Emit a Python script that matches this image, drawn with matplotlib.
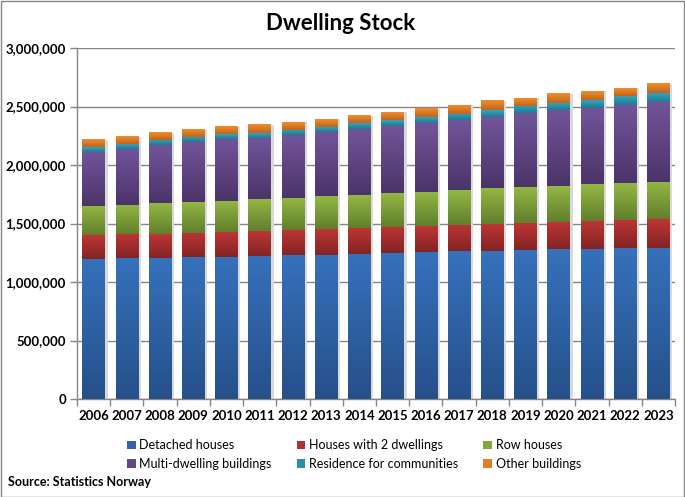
import numpy as np
import matplotlib
matplotlib.use("Agg")
import matplotlib.pyplot as plt
from matplotlib.colors import LinearSegmentedColormap
from matplotlib.patches import Patch, Rectangle
from matplotlib.ticker import FuncFormatter, MultipleLocator

plt.rcParams["font.family"] = ["Lato", "DejaVu Sans"]

years = [str(y) for y in range(2006, 2024)]

# values in dwellings (thousands * 1000)
detached = np.array([1197, 1204, 1208, 1211, 1214, 1225, 1230, 1234, 1242,
                     1250, 1259, 1265, 1268, 1274, 1280, 1284, 1290, 1294]) * 1000
two_dwellings = np.array([205, 206, 204, 208, 213, 211, 217, 222, 222,
                          223, 222, 225, 231, 230, 236, 240, 243, 242]) * 1000
row_houses = np.array([248, 248, 263, 265, 265, 273, 274, 282, 282,
                       290, 291, 299, 307, 311, 307, 316, 316, 321]) * 1000
multi_dwelling = np.array([463, 479, 496, 515, 530, 524, 535, 547, 562,
                           573, 587, 598, 604, 629, 650, 650, 664, 684]) * 1000
communities = np.array([41, 42, 43, 43, 40, 41, 46, 42, 50,
                        51, 51, 52, 58, 61, 58, 66, 76, 74]) * 1000
other = np.array([60, 63, 62, 61, 66, 72, 66, 68, 63,
                  66, 69, 74, 77, 68, 77, 74, 67, 77]) * 1000

labels = ["Detached houses", "Houses with 2 dwellings", "Row houses",
          "Multi-dwelling buildings", "Residence for communities", "Other buildings"]
series = [detached, two_dwellings, row_houses, multi_dwelling, communities, other]
# (bottom colour, top colour) of each gradient
colors = [("#26508a", "#3671bb"),
          ("#832424", "#bd3535"),
          ("#627f2c", "#93b744"),
          ("#4b3469", "#71559a"),
          ("#217a8e", "#33a3c2"),
          ("#c0661c", "#f08d2e")]
legend_colors = ["#3465a8", "#ad3131", "#85a63f", "#62478a", "#2b8fa8", "#e07e29"]

fig = plt.figure(figsize=(6.85, 4.97), dpi=100)
ax = fig.add_axes([77 / 685, 98 / 497, 598 / 685, 351 / 497])

x = np.arange(len(years))
bottom = np.zeros(len(years))
for vals, (c0, c1) in zip(series, colors):
    bars = ax.bar(x, vals, width=0.68, bottom=bottom, color="none", zorder=3)
    cmap = LinearSegmentedColormap.from_list("g", [c0, c1])
    grad = np.linspace(0, 1, 64).reshape(-1, 1)
    for b in bars:
        bx, by = b.get_x(), b.get_y()
        bw, bh = b.get_width(), b.get_height()
        # soft shadow on the right
        ax.add_patch(Rectangle((bx + 0.04, by), bw + 0.04, bh, color="#d9d9d9",
                               lw=0, zorder=2))
        ax.imshow(grad, extent=[bx, bx + bw, by, by + bh], origin="lower",
                  aspect="auto", cmap=cmap, zorder=3, interpolation="bilinear")
    bottom += vals

ax.set_xlim(-0.5, len(years) - 0.5)
ax.set_ylim(0, 3000000)
ax.yaxis.set_major_locator(MultipleLocator(500000))
ax.yaxis.set_major_formatter(FuncFormatter(lambda v, p: f"{int(v):,}"))
ax.set_xticks(x)
ax.set_xticklabels(years)
ax.set_xticks(np.arange(-0.5, len(years)), minor=True)
ax.tick_params(axis="x", which="major", length=0, pad=8, labelsize=9.5)
ax.tick_params(axis="x", which="minor", length=5, color="#868686", width=1)
ax.tick_params(axis="y", length=5, color="#868686", width=1, pad=3, labelsize=9.5)
for lab in ax.get_xticklabels() + ax.get_yticklabels():
    lab.set_fontweight("bold")

ax.grid(axis="y", color="#868686", linewidth=1, zorder=1)
ax.set_axisbelow(True)
for s in ["top", "right"]:
    ax.spines[s].set_visible(False)
for s in ["left", "bottom"]:
    ax.spines[s].set_color("#868686")
    ax.spines[s].set_linewidth(1)

fig.text(341 / 685, 1 - 23 / 497, "Dwelling Stock", ha="center", va="center",
         fontsize=16, fontweight="bold")

# legend is filled column by column, so reorder to get row-wise layout
order = [0, 3, 1, 4, 2, 5]
handles = [Patch(facecolor=legend_colors[i], label=labels[i]) for i in order]
fig.legend(handles=handles, ncol=3, loc="center", bbox_to_anchor=(354 / 685, 1 - 454.5 / 497),
           frameon=False, fontsize=9, handlelength=0.7, handleheight=0.7,
           handletextpad=0.3, columnspacing=2.0, labelspacing=0.5)

fig.text(8 / 685, 1 - 482 / 497, "Source: Statistics Norway", ha="left", va="center",
         fontsize=9, fontweight="bold")

fig.add_artist(Rectangle((0.5 / 685, 0.5 / 497), 683.5 / 685, 495.5 / 497,
                         transform=fig.transFigure, fill=False, edgecolor="#868686", lw=1))

fig.savefig("out.png", dpi=100)
